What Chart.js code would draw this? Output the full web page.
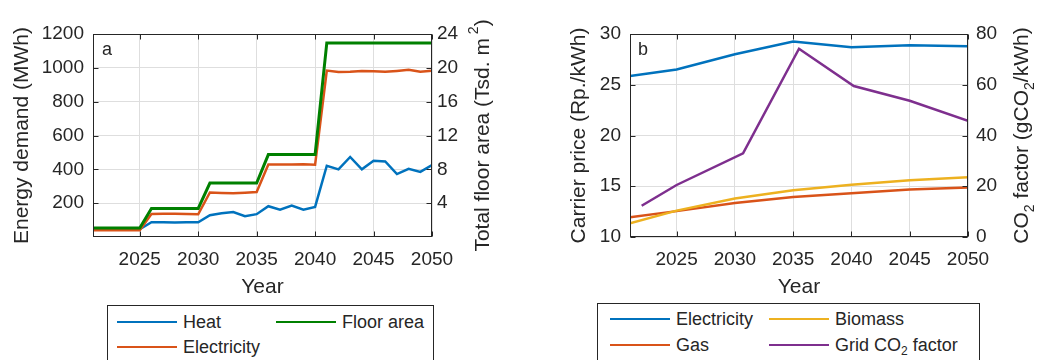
<!DOCTYPE html>
<html>
<head>
<meta charset="utf-8">
<script src="https://cdn.jsdelivr.net/npm/chart.js@4.4.0/dist/chart.umd.min.js"></script>
<style>
  body { margin: 0; background: #fff; width: 1038px; height: 360px; overflow: hidden; position: relative;
         font-family: "Liberation Sans", Arial, Helvetica, sans-serif; color: #262626; }
  canvas { position: absolute; top: 0; }
  .leg { position: absolute; border: 1px solid #262626; background: #fff; }
  .ln { position: absolute; height: 2px; }
  .lt { position: absolute; font-size: 18px; line-height: 20px; white-space: nowrap; }
  .lt sub { font-size: 12px; line-height: 0; vertical-align: -4px; }
</style>
</head>
<body>
<canvas id="chartA" width="519" height="300" style="left:0px"></canvas>
<canvas id="chartB" width="518" height="300" style="left:520px"></canvas>
<div id="legends"></div>

<script>
// --- DONNEES (a) : demande d'energie + surface ---
const years = [2021, 2022, 2023, 2024, 2025, 2026, 2027, 2028, 2029, 2030,
               2031, 2032, 2033, 2034, 2035, 2036, 2037, 2038, 2039, 2040,
               2041, 2042, 2043, 2044, 2045, 2046, 2047, 2048, 2049, 2050];
const heatDemand = [52, 52, 52, 52, 46, 87, 87, 85, 87, 87,
                    129, 140, 148, 123, 135, 182, 162, 186, 162, 178,
                    421, 400, 473, 400, 451, 447, 372, 403, 385, 425];
const elecDemand = [40, 40, 40, 40, 40, 136, 138, 138, 136, 134,
                    263, 260, 258, 262, 266, 429, 428, 428, 430, 427,
                    984, 976, 977, 982, 980, 977, 982, 988, 977, 983];
const floorArea = [1.07, 1.07, 1.07, 1.07, 1.07, 3.37, 3.37, 3.37, 3.37, 3.37,
                   6.38, 6.38, 6.38, 6.38, 6.38, 9.74, 9.74, 9.74, 9.74, 9.74,
                   22.95, 22.95, 22.95, 22.95, 22.95, 22.95, 22.95, 22.95, 22.95, 22.95];
const demandTicks = [200, 400, 600, 800, 1000, 1200];
const floorTicks = [4, 8, 12, 16, 20, 24];
const yearTicks = [2025, 2030, 2035, 2040, 2045, 2050];

// --- DONNEES (b) : prix + facteur CO2 ---
const priceYears = [2021, 2025, 2030, 2035, 2040, 2045, 2050];
const elecPrice = [25.85, 26.5, 28.0, 29.25, 28.7, 28.9, 28.8];
const gasPrice = [11.95, 12.55, 13.35, 13.95, 14.3, 14.67, 14.88];
const biomassPrice = [11.35, 12.6, 13.8, 14.6, 15.15, 15.6, 15.88];
const co2Years = [2022, 2025, 2030.7, 2035.5, 2040.2, 2045, 2050];
const co2Factor = [12.3, 20.5, 33, 74.2, 59.5, 53.7, 45.8];
const priceTicks = [10, 15, 20, 25, 30];
const co2Ticks = [0, 20, 40, 60, 80];

const FONT = '"Liberation Sans", Arial, Helvetica, sans-serif';
const TEXT = '#262626';
const GRID = '#dedede';
const BLUE = '#0072bd', ORANGE = '#d95319', YELLOW = '#edb120', PURPLE = '#7e2f8e', GREEN = '#008000';

const pts = (xs, ys) => xs.map((x, i) => ({ x: x, y: ys[i] }));

// texte vertical avec indices / exposants : [texte, 0 normal | 1 indice | 2 exposant]
function drawRich(ctx, x, y, parts, size) {
    ctx.save();
    ctx.translate(x, y);
    ctx.rotate(-Math.PI / 2);
    ctx.fillStyle = TEXT;
    ctx.textBaseline = 'middle';
    ctx.textAlign = 'left';
    const fontOf = p => (p[1] ? Math.round(size * 0.65) : size) + 'px ' + FONT;
    let total = 0;
    parts.forEach(p => { ctx.font = fontOf(p); total += ctx.measureText(p[0]).width; });
    let cx = -total / 2;
    parts.forEach(p => {
        ctx.font = fontOf(p);
        const dy = p[1] === 1 ? size * 0.35 : (p[1] === 2 ? -size * 0.4 : 0);
        ctx.fillText(p[0], cx, dy);
        cx += ctx.measureText(p[0]).width;
    });
    ctx.restore();
}

// cadre, petites graduations internes, lettre du panneau, titre de droite
const frame = {
    id: 'frame',
    afterDraw(chart, args, opts) {
        const { ctx, chartArea: a } = chart;
        const L = Math.round(a.left) + 0.5, R = Math.round(a.right) - 0.5;
        const T = Math.round(a.top) + 0.5, B = Math.round(a.bottom) - 0.5;
        ctx.save();
        ctx.strokeStyle = TEXT;
        ctx.lineWidth = 1;
        ctx.strokeRect(L, T, R - L, B - T);
        ctx.beginPath();
        yearTicks.forEach(v => {
            const px = Math.round(chart.scales.x.getPixelForValue(v)) + 0.5;
            ctx.moveTo(px, B); ctx.lineTo(px, B - 5);
            ctx.moveTo(px, T); ctx.lineTo(px, T + 5);
        });
        chart.scales.yL.ticks.forEach(t => {
            const py = Math.round(chart.scales.yL.getPixelForValue(t.value)) + 0.5;
            ctx.moveTo(L, py); ctx.lineTo(L + 5, py);
        });
        chart.scales.yR.ticks.forEach(t => {
            const py = Math.round(chart.scales.yR.getPixelForValue(t.value)) + 0.5;
            ctx.moveTo(R, py); ctx.lineTo(R - 5, py);
        });
        ctx.stroke();
        ctx.fillStyle = TEXT;
        ctx.font = '18px ' + FONT;
        ctx.textBaseline = 'alphabetic';
        ctx.fillText(opts.letter, a.left + opts.letterX, a.top + 21);
        ctx.restore();
        drawRich(ctx, opts.rightX, (a.top + a.bottom) / 2, opts.rightTitle, 21);
    }
};

function makeOptions(cfg) {
    const tickFont = { family: FONT, size: 19 };
    const titleFont = { family: FONT, size: 21 };
    return {
        responsive: false,
        devicePixelRatio: 1,
        animation: false,
        layout: { padding: { top: 34, left: 0, right: 0, bottom: 0 } },
        plugins: {
            legend: { display: false },
            tooltip: { enabled: false },
            frame: cfg.frame
        },
        scales: {
            x: {
                type: 'linear', min: 2021, max: 2050,
                afterBuildTicks: s => { s.ticks = yearTicks.map(v => ({ value: v })); },
                afterFit: s => { s.height = 63; },
                grid: { color: GRID, drawTicks: false },
                border: { display: false },
                ticks: { font: tickFont, color: TEXT, padding: 11, maxRotation: 0, autoSkip: false,
                         callback: v => String(v) },
                title: { display: true, text: 'Year', font: titleFont, color: TEXT, padding: { top: 0, bottom: 0 } }
            },
            yL: {
                position: 'left', min: cfg.left.min, max: cfg.left.max,
                afterBuildTicks: s => { s.ticks = cfg.left.ticks.map(v => ({ value: v })); },
                afterFit: s => { s.width = cfg.left.width; },
                grid: { color: GRID, drawTicks: false },
                border: { display: false },
                ticks: { font: tickFont, color: TEXT, padding: cfg.left.pad, autoSkip: false,
                         callback: v => String(v) },
                title: { display: true, text: cfg.left.title, font: titleFont, color: TEXT,
                         padding: { top: cfg.left.titlePad, bottom: 0 } }
            },
            yR: {
                position: 'right', min: cfg.right.min, max: cfg.right.max,
                afterBuildTicks: s => { s.ticks = cfg.right.ticks.map(v => ({ value: v })); },
                afterFit: s => { s.width = cfg.right.width; },
                grid: { display: false, drawTicks: false },
                border: { display: false },
                ticks: { font: tickFont, color: TEXT, padding: cfg.right.pad, autoSkip: false,
                         callback: v => String(v) }
            }
        }
    };
}

function line(label, data, color, axis, order, width) {
    return { label: label, data: data, borderColor: color, backgroundColor: color, yAxisID: axis,
             borderWidth: width || 2.5, pointRadius: 0, tension: 0, order: order, fill: false };
}

// --- GRAPHIQUE (a) ---
new Chart(document.getElementById('chartA'), {
    type: 'line',
    data: {
        datasets: [
            line('Heat', pts(years, heatDemand), BLUE, 'yL', 3),
            line('Electricity', pts(years, elecDemand), ORANGE, 'yL', 2),
            line('Floor area', pts(years, floorArea), GREEN, 'yR', 1, 3)
        ]
    },
    options: makeOptions({
        left: { min: 0, max: 1200, ticks: demandTicks, width: 93, pad: 9, title: 'Energy demand (MWh)', titlePad: 10 },
        right: { min: 0, max: 24, ticks: floorTicks, width: 87, pad: 5 },
        frame: { letter: 'a', letterX: 9, rightX: 483,
                 rightTitle: [['Total floor area (Tsd. m', 0], [' 2', 2], [')', 0]] }
    }),
    plugins: [frame]
});

// --- GRAPHIQUE (b) ---
new Chart(document.getElementById('chartB'), {
    type: 'line',
    data: {
        datasets: [
            line('Electricity', pts(priceYears, elecPrice), BLUE, 'yL', 4),
            line('Gas', pts(priceYears, gasPrice), ORANGE, 'yL', 3),
            line('Biomass', pts(priceYears, biomassPrice), YELLOW, 'yL', 2),
            line('Grid CO2 factor', pts(co2Years, co2Factor), PURPLE, 'yR', 1)
        ]
    },
    options: makeOptions({
        left: { min: 10, max: 30, ticks: priceTicks, width: 110, pad: 9, title: 'Carrier price (Rp./kWh)', titlePad: 47 },
        right: { min: 0, max: 80, ticks: co2Ticks, width: 70, pad: 8 },
        frame: { letter: 'b', letterX: 8, rightX: 502.5,
                 rightTitle: [['CO', 0], ['2', 1], [' factor (gCO', 0], ['2', 1], ['/kWh)', 0]] }
    }),
    plugins: [frame]
});

// --- LEGENDES (encadrees sous les graphiques) ---
const legendBoxes = [
    { left: 107, top: 305, width: 325 },
    { left: 597, top: 303, width: 381 }
];
const legendItems = [
    { text: 'Heat', color: BLUE, x: 117, y: 322 },
    { text: 'Floor area', color: GREEN, x: 276, y: 322 },
    { text: 'Electricity', color: ORANGE, x: 117, y: 347 },
    { text: 'Electricity', color: BLUE, x: 610, y: 319 },
    { text: 'Biomass', color: YELLOW, x: 769, y: 319 },
    { text: 'Gas', color: ORANGE, x: 610, y: 345 },
    { text: 'Grid CO<sub>2</sub> factor', color: PURPLE, x: 769, y: 345 }
];
const legendsDiv = document.getElementById('legends');
legendBoxes.forEach(b => {
    const d = document.createElement('div');
    d.className = 'leg';
    d.style.cssText = `left:${b.left}px;top:${b.top}px;width:${b.width}px;height:80px`;
    legendsDiv.appendChild(d);
});
legendItems.forEach(it => {
    const l = document.createElement('div');
    l.className = 'ln';
    l.style.cssText = `left:${it.x}px;top:${it.y - 1}px;width:60px;background:${it.color}`;
    legendsDiv.appendChild(l);
    const t = document.createElement('div');
    t.className = 'lt';
    t.style.cssText = `left:${it.x + 66}px;top:${it.y - 10}px`;
    t.innerHTML = it.text;
    legendsDiv.appendChild(t);
});
</script>
</body>
</html>
